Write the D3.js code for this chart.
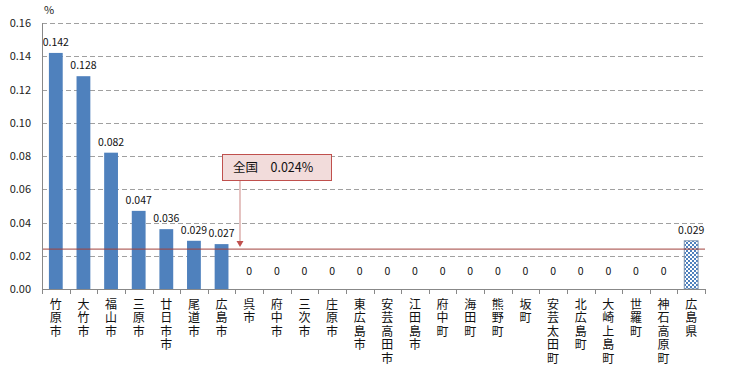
<!DOCTYPE html>
<html>
<head>
<meta charset="utf-8">
<script src="https://cdn.jsdelivr.net/npm/d3@7"></script>
<style>
body { margin: 0; background: #fff; }
text { font-family: "Noto Sans CJK JP", "DejaVu Sans", sans-serif; }
</style>
</head>
<body>
<div id="chart"></div>
<script>
var categories = ["竹原市","大竹市","福山市","三原市","廿日市市","尾道市","広島市","呉市","府中市","三次市","庄原市","東広島市","安芸高田市","江田島市","府中町","海田町","熊野町","坂町","安芸太田町","北広島町","大崎上島町","世羅町","神石高原町","広島県"];
var values = [0.142,0.128,0.082,0.047,0.036,0.029,0.027,0,0,0,0,0,0,0,0,0,0,0,0,0,0,0,0,0.029];
var valueLabels = ["0.142","0.128","0.082","0.047","0.036","0.029","0.027","0","0","0","0","0","0","0","0","0","0","0","0","0","0","0","0","0.029"];
var yTicks = [0,0.02,0.04,0.06,0.08,0.10,0.12,0.14,0.16];
var nationalValue = 0.024;
var nationalLabel = "全国　0.024%";

var W = 735, H = 372;
var m = {left: 42, right: 30, top: 23, bottom: 83};

var svg = d3.select('#chart').append('svg')
  .attr('width', W).attr('height', H);

var defs = svg.append('defs');
var pat = defs.append('pattern').attr('id', 'checks')
  .attr('patternUnits', 'userSpaceOnUse').attr('width', 4).attr('height', 4);
pat.append('rect').attr('width', 4).attr('height', 4).attr('fill', '#fff');
pat.append('rect').attr('width', 2).attr('height', 2).attr('fill', '#4f81bd');
pat.append('rect').attr('x', 2).attr('y', 2).attr('width', 2).attr('height', 2).attr('fill', '#4f81bd');

var x = d3.scaleBand().domain(categories).range([m.left, W - m.right]).paddingInner(0.5).paddingOuter(0.25);
var y = d3.scaleLinear().domain([0, 0.16]).range([H - m.bottom, m.top]);

// gridlines
svg.append('g').selectAll('line').data(yTicks.slice(1)).enter().append('line')
  .attr('x1', m.left).attr('x2', W - m.right)
  .attr('y1', function(d){ return Math.round(y(d)) + 0.5; })
  .attr('y2', function(d){ return Math.round(y(d)) + 0.5; })
  .attr('stroke', '#a0a0a0').attr('stroke-dasharray', '5,3');

// y axis labels
svg.append('g').selectAll('text').data(yTicks).enter().append('text')
  .attr('x', 31).attr('y', function(d){ return y(d) + 4; })
  .attr('text-anchor', 'end').attr('font-size', 11).attr('fill', '#222')
  .text(function(d){ return d.toFixed(2); });
svg.append('text').attr('x', 44).attr('y', 14).attr('font-size', 11).attr('fill', '#222').text('%');

// bars
svg.append('g').selectAll('rect').data(values).enter().append('rect')
  .attr('x', function(d, i){ return x(categories[i]); })
  .attr('width', x.bandwidth())
  .attr('y', function(d){ return y(d); })
  .attr('height', function(d){ return y(0) - y(d); })
  .attr('fill', function(d, i){ return i === categories.length - 1 ? 'url(#checks)' : '#4f81bd'; })
  .attr('stroke', function(d, i){ return i === categories.length - 1 ? '#7f96b2' : 'none'; });

// value labels
svg.append('g').selectAll('text').data(values).enter().append('text')
  .attr('x', function(d, i){ return x(categories[i]) + x.bandwidth() / 2; })
  .attr('y', function(d){ return d === 0 ? y(0) - 14 : y(d) - 7; })
  .attr('text-anchor', 'middle').attr('font-size', 10.5).attr('fill', '#111')
  .text(function(d, i){ return valueLabels[i]; });

// national line
svg.append('line')
  .attr('x1', m.left).attr('x2', W - m.right)
  .attr('y1', y(nationalValue)).attr('y2', y(nationalValue))
  .attr('stroke', '#a0403c').attr('stroke-width', 1);

// axes
var step = x.step();
svg.append('line').attr('x1', m.left + 0.5).attr('x2', m.left + 0.5)
  .attr('y1', m.top).attr('y2', y(0)).attr('stroke', '#888');
svg.append('line').attr('x1', m.left).attr('x2', W - m.right)
  .attr('y1', y(0) + 0.5).attr('y2', y(0) + 0.5).attr('stroke', '#888');
svg.append('g').selectAll('line').data(d3.range(categories.length + 1)).enter().append('line')
  .attr('x1', function(i){ return Math.round(m.left + i * step) + 0.5; })
  .attr('x2', function(i){ return Math.round(m.left + i * step) + 0.5; })
  .attr('y1', y(0)).attr('y2', y(0) + 5).attr('stroke', '#888');

// x labels (vertical writing)
svg.append('g').selectAll('text').data(categories).enter().append('text')
  .attr('x', function(c){ return x(c) + x.bandwidth() / 2; })
  .attr('y', y(0) + 9)
  .attr('writing-mode', 'vertical-rl')
  .style('letter-spacing', '1.5px')
  .attr('font-size', 12).attr('fill', '#111')
  .text(function(c){ return c; });

// annotation
var bx = 222, by = 154, bw = 109, bh = 26;
var ax = 240;
svg.append('line').attr('x1', ax).attr('x2', ax).attr('y1', by + bh).attr('y2', y(nationalValue) - 6)
  .attr('stroke', '#d49a98').attr('stroke-width', 1.2);
svg.append('path')
  .attr('d', 'M' + (ax - 3.5) + ',' + (y(nationalValue) - 8) + 'L' + (ax + 3.5) + ',' + (y(nationalValue) - 8) + 'L' + ax + ',' + (y(nationalValue) - 2) + 'Z')
  .attr('fill', '#c0504d');
svg.append('rect').attr('x', bx + 0.5).attr('y', by + 0.5).attr('width', bw).attr('height', bh)
  .attr('fill', '#f2dcdb').attr('stroke', '#c0504d');
svg.append('text').attr('x', bx + 11).attr('y', by + 18).attr('font-size', 12.5).attr('fill', '#111')
  .text(nationalLabel);
</script>
</body>
</html>
